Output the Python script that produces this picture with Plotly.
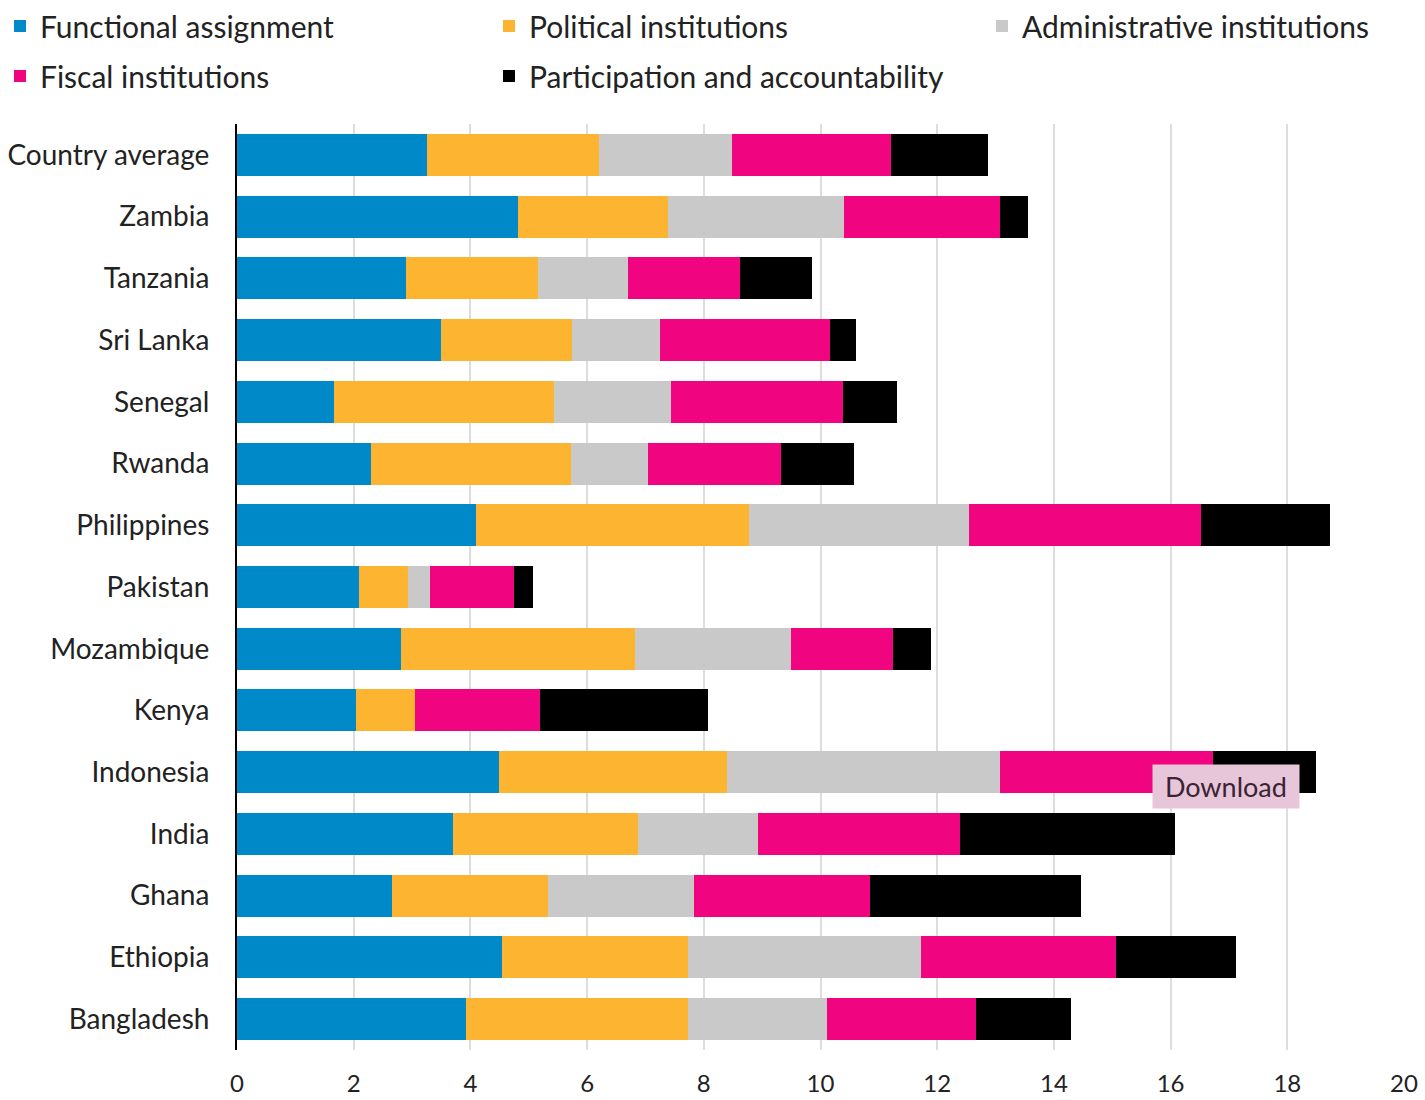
import plotly.graph_objects as go

countries = ["Country average", "Zambia", "Tanzania", "Sri Lanka", "Senegal", "Rwanda",
             "Philippines", "Pakistan", "Mozambique", "Kenya", "Indonesia", "India",
             "Ghana", "Ethiopia", "Bangladesh"]

functional = [3.26, 4.82, 2.90, 3.50, 1.66, 2.30, 4.10, 2.09, 2.81, 2.04, 4.49, 3.70, 2.66, 4.54, 3.92]
political = [2.94, 2.57, 2.26, 2.24, 3.77, 3.42, 4.67, 0.84, 4.01, 1.01, 3.91, 3.17, 2.67, 3.19, 3.81]
administrative = [2.28, 3.01, 1.54, 1.51, 2.01, 1.32, 3.78, 0.38, 2.67, 0.00, 4.68, 2.06, 2.50, 3.99, 2.38]
fiscal = [2.73, 2.68, 1.92, 2.91, 2.95, 2.28, 3.97, 1.44, 1.75, 2.14, 3.65, 3.46, 3.02, 3.34, 2.56]
participation = [1.66, 0.48, 1.23, 0.45, 0.92, 1.25, 2.21, 0.32, 0.65, 2.88, 1.76, 3.69, 3.61, 2.06, 1.62]

series_names = ["Functional assignment", "Political institutions", "Administrative institutions",
                "Fiscal institutions", "Participation and accountability"]
series_values = [functional, political, administrative, fiscal, participation]
colors = ["#0089C8", "#FDB531", "#C9C9C9", "#F0047F", "#000000"]

x_ticks = [0, 2, 4, 6, 8, 10, 12, 14, 16, 18, 20]

W, H = 1425, 1100
font_family = "Lato, 'Open Sans', sans-serif"

# legend placement (pixel left edge, pixel top edge) for each series
legend_ids = ["legend", "legend2", "legend3", "legend4", "legend5"]
legend_pos = [(-2, 0), (489, 0), (982, 0), (-2, 50), (489, 50)]

fig = go.Figure()
for name, vals, col, lid in zip(series_names, series_values, colors, legend_ids):
    fig.add_trace(go.Bar(
        y=countries, x=vals, name=name, orientation="h",
        marker=dict(color=col, line=dict(width=0)),
        legend=lid,
    ))

legend_layouts = {}
for lid, (px, py) in zip(legend_ids, legend_pos):
    legend_layouts[lid] = dict(
        orientation="h",
        xref="container", yref="container",
        x=max(px / W, 0), y=1 - py / H, xanchor="left", yanchor="top",
        font=dict(size=30, color="#222222", family=font_family),
        itemwidth=30, bgcolor="rgba(0,0,0,0)",
    )

fig.update_layout(
    barmode="stack",
    bargap=0.32,
    width=W, height=H,
    margin=dict(l=237, r=21, t=124, b=50, autoexpand=False),
    plot_bgcolor="white", paper_bgcolor="white",
    font=dict(family=font_family, size=28, color="#222222"),
    showlegend=True,
    xaxis=dict(
        range=[0, 20], tickvals=x_ticks, ticktext=[str(t) for t in x_ticks],
        showgrid=True, gridcolor="#DDDDDD", gridwidth=2,
        zeroline=False, showline=False, automargin=False,
        ticks="", ticklabelstandoff=17,
        tickfont=dict(size=24, color="#222222"),
    ),
    yaxis=dict(
        autorange="reversed", automargin=False,
        showline=True, linecolor="#000000", linewidth=2,
        ticks="", ticklabelstandoff=20,
        tickfont=dict(size=28, color="#222222"),
        showgrid=False,
    ),
    annotations=[dict(
        x=(1226 - 237) / (1404 - 237), y=(1050 - 786) / (1050 - 124),
        xref="paper", yref="paper", xanchor="center", yanchor="middle",
        text="&nbsp;Download&nbsp;", showarrow=False,
        font=dict(size=27, color="#3A2333", family=font_family),
        bgcolor="#E8C6DA", borderpad=5,
    )],
    **legend_layouts,
)

fig.write_html("out.html", config={"displayModeBar": False},
               post_script="document.body.style.margin='0';")
